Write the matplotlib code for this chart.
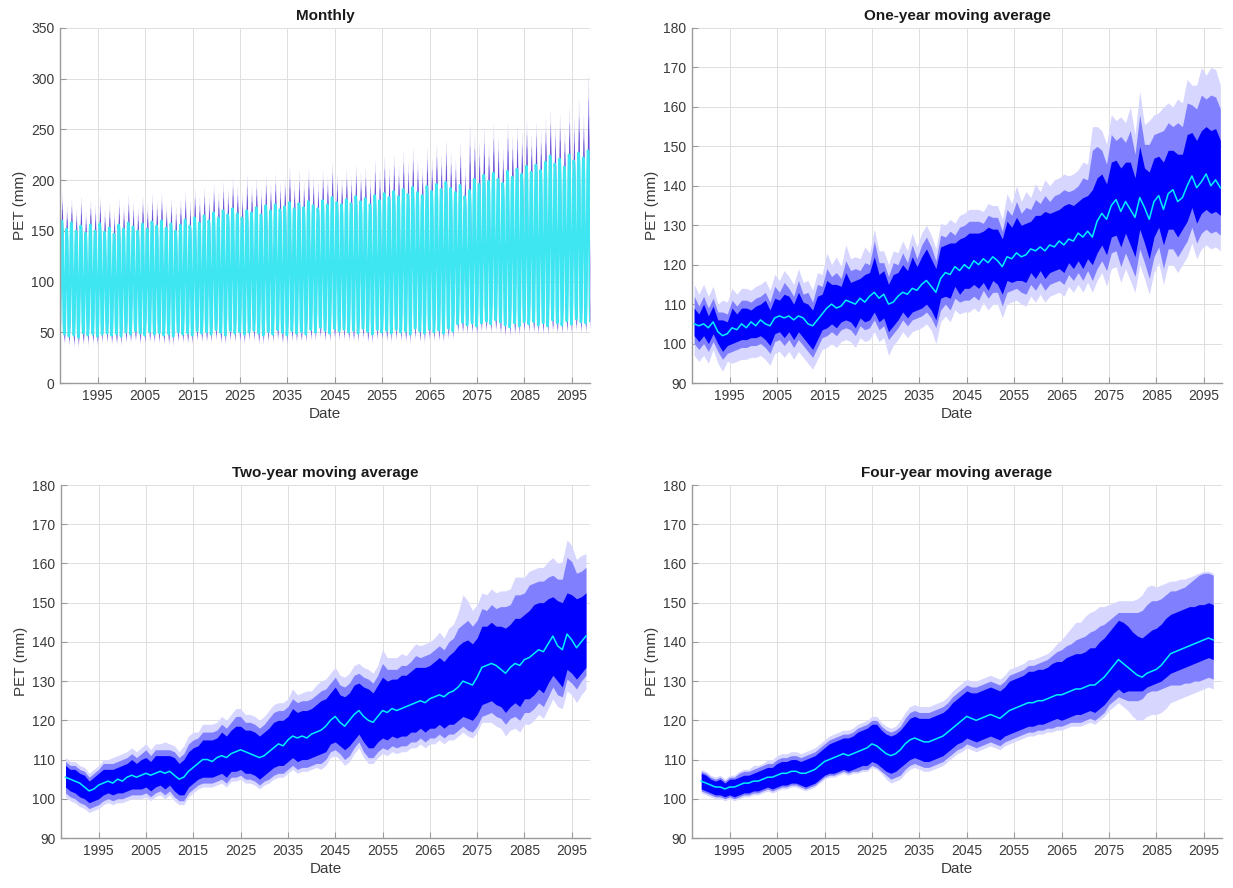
import numpy as np
import matplotlib
matplotlib.use("Agg")
import matplotlib.pyplot as plt

plt.rcParams['font.family'] = ['Liberation Sans', 'DejaVu Sans']

# ---------------- monthly panel (read per year, 1987-2098) ----------------
FIRST_YEAR = 1987
# seasonal position of each month between yearly trough (0) and peak (1)
SEASON_SHAPE = [0.02, 0.12, 0.35, 0.62, 0.88, 1.00, 0.98, 0.90, 0.66, 0.36, 0.10, 0.00]

peak_med = [160,152,158,150,155,148,156,150,157,149,
            153,147,156,152,158,154,150,157,152,159,
            155,160,153,157,150,156,161,155,163,158,
            165,160,168,163,170,166,172,167,163,170,
            168,173,166,175,170,176,171,174,178,172,
            177,173,179,175,172,180,176,183,178,176,
            181,177,184,179,182,176,185,180,187,183,
            189,184,191,186,193,188,185,194,189,196,
            191,198,192,188,195,184,190,201,196,205,
            199,207,201,197,209,203,211,206,214,208,
            215,210,218,224,216,221,213,225,219,227,
            222,229]
peak_hi = [188,176,182,173,185,170,181,176,184,172,
           178,170,183,176,186,179,174,185,177,187,
           181,188,176,183,175,182,189,180,192,184,
           193,185,197,189,199,192,203,195,188,206,
           195,202,192,205,197,207,198,203,214,199,
           210,200,213,204,198,211,205,218,207,203,
           212,205,216,208,213,203,220,210,224,214,
           226,215,229,218,232,221,214,233,222,236,
           226,240,228,222,237,214,255,246,238,252,
           236,256,243,232,258,245,255,248,260,246,
           258,249,262,270,255,266,250,272,262,280,
           265,305]
trough_med = [50,46,48,45,49,47,50,46,48,51,
              47,49,46,50,48,52,49,47,51,48,
              50,47,49,46,51,48,50,47,52,49,
              51,48,53,50,47,52,49,51,48,50,
              52,49,47,51,48,53,50,47,52,49,
              51,48,53,50,55,52,49,54,51,53,
              50,52,49,54,51,48,53,50,52,49,
              53,50,52,48,54,51,49,53,50,52,
              49,54,51,58,60,57,61,56,59,63,
              58,62,60,57,55,59,56,60,58,61,
              57,60,56,62,59,57,61,58,63,60,
              59,61]
trough_lo = [40,36,38,33,39,35,40,36,38,41,
             37,39,35,40,38,42,39,36,41,38,
             40,37,39,35,41,38,40,36,42,39,
             41,38,43,40,36,42,39,41,37,40,
             42,39,36,41,38,43,40,35,42,39,
             41,38,43,40,45,42,39,44,41,43,
             40,42,38,44,41,37,43,40,42,38,
             43,40,42,37,44,41,38,43,40,42,
             38,44,41,47,49,46,50,45,48,52,
             47,51,49,45,44,48,45,49,47,50,
             46,49,45,51,48,46,50,47,52,49,
             48,50]

# ---------------- one-year moving average (1987.5 ... 2098.5) ----------------
ma1_start = 1987.5
ma1_med = [105,104.5,105,104,105.5,103,102,102.5,104,103.5,
           105,104,105.5,104.5,106,105,104.5,106.5,107,106.5,
           107,106,107,106.5,105,104.5,106,107.5,109,110,
           109,109.5,111,110.5,110,111.5,110.5,112,113,111.5,
           112.5,110,110.5,112,113,112.5,114,113.5,115,116,
           114.5,113,116.5,118,117.5,119.5,118.5,120,119,121,
           120,121.5,120.5,122,121,119.5,122,121.5,123,122,
           122.5,124,123.5,124.5,123.5,125,124.5,126,125,126.5,
           126,128,127,128.5,127,131,133,131.5,135,136.5,
           133.5,136,134,132,137,134.5,131.5,136,137.5,134,
           138,139,136,137,140,142.5,139.5,141,143,140,
           141.5,139.5]
ma1_in_up = [4,3,5,3,4,3,4,3,5,4, 4,5,3,5,4,6,4,5,4,6, 5,4,6,4,5,4,6,5,7,5,
             6,5,7,5,6,5,7,6,9,6, 6,5,7,6,7,6,8,6,7,8, 7,6,8,7,8,6,8,7,9,7,
             8,7,9,7,8,7,9,8,9,8, 8,7,9,8,10,8,9,8,10,9, 9,8,10,9,12,11,10,9,11,10,
             11,10,12,10,13,10,12,11,10,12, 11,10,12,11,13,11,12,13,12,14, 13,12]
ma1_in_dn = [3,4,3,4,3,3,4,3,4,3, 4,3,4,3,4,4,5,4,4,5, 4,5,4,5,5,6,5,4,5,5,
             5,4,5,5,6,5,5,6,5,6, 6,7,6,6,5,6,6,5,6,6, 6,7,5,6,6,5,6,6,5,6,
             6,6,7,6,6,7,6,6,7,6, 7,6,7,6,7,7,6,7,7,6, 7,7,8,7,7,8,8,9,8,9,
             9,8,9,10,8,9,10,9,8,9, 9,10,9,8,9,8,9,8,9,7, 8,7]
ma1_mid_up = [7,5,7,5,6,5,6,5,7,6, 6,7,5,7,6,8,6,8,6,9, 7,6,9,6,8,6,9,7,10,7,
              9,7,10,8,9,7,10,8,13,9, 8,7,10,8,10,8,11,8,10,11, 10,8,11,9,11,8,11,10,12,10,
              11,9,12,10,11,9,12,11,13,11, 12,10,13,11,14,11,13,12,14,12, 13,12,15,13,22,19,16,14,18,15,
              19,15,20,16,21,16,19,17,16,20, 18,16,20,18,21,18,20,22,19,23, 21,20]
ma1_mid_dn = [5,6,5,6,5,5,6,5,6,5, 6,5,6,5,6,6,7,6,6,7, 6,7,6,7,7,8,7,6,7,7,
              7,6,7,7,8,7,7,8,7,8, 8,9,8,8,7,8,8,7,8,8, 8,9,8,8,9,8,8,9,8,9,
              9,8,9,9,8,10,9,8,9,9, 10,9,10,9,10,10,9,10,10,9, 10,10,11,10,11,12,12,13,12,13,
              14,13,14,15,13,14,15,14,13,15, 14,15,14,13,14,13,14,13,14,12, 13,12]
ma1_out_up = [10,8,10,8,9,7,9,8,10,9, 9,10,8,10,9,11,9,11,9,12, 10,9,12,9,11,9,12,10,14,10,
              13,10,14,11,12,10,14,11,16,12, 11,10,13,11,13,11,14,11,13,14, 13,11,14,12,14,11,14,13,15,13,
              14,12,15,13,14,12,16,14,17,14, 16,13,17,14,18,15,17,16,18,16, 17,16,19,17,28,24,21,19,23,20,
              24,20,26,21,27,21,25,22,21,26, 23,21,26,24,27,23,26,29,25,30, 28,26]
ma1_out_dn = [8,9,8,9,7,8,9,7,9,8, 9,8,9,8,9,9,10,9,9,10, 9,10,9,10,10,11,10,9,10,10,
              10,9,10,10,11,10,10,11,10,11, 11,13,11,11,10,11,11,10,11,11, 11,13,11,11,12,11,11,12,11,12,
              12,11,12,12,11,13,12,11,12,12, 13,12,13,12,13,13,12,13,13,12, 13,13,14,13,14,15,15,17,16,17,
              18,17,18,19,17,18,19,18,17,19, 18,19,18,17,18,17,18,17,18,16, 17,16]

# ---------------- two-year moving average (1988 ... 2098) ----------------
ma2_start = 1988
ma2_med = [105.5,105,104.5,104,103,102,102.5,103.5,104,104.5,
           104,105,104.5,105.5,106,105.5,106,106.5,106,106.5,
           107,106.5,107,106,105,105.5,107,108,109,110,
           110,109.5,110.5,111,110.5,111.5,112,112.5,112,111.5,
           111,110.5,111,112,113,114,113.5,115,116,115.5,
           116,115.5,116.5,117,117.5,118.5,120,121,119.5,118.5,
           120,121.5,122.5,121,120,119.5,121,122.5,122,123,
           122.5,123,123.5,124,124.5,125,124.5,125.5,126,126.5,
           126,127,127.5,128.5,130,129.5,129,131,133.5,134,
           134.5,134,133,132,133.5,134.5,134,135.5,136,137,
           138,137.5,139.5,141.5,139,138,142,140.5,138.5,140,
           141.5]
ma2_in_up = [3,2.5,3,2.5,3,2.5,3,3,3.5,3, 3.5,3,4,3.5,4,3.5,4,4,3.5,4.5,
             4,4.5,4,4.5,4,4.5,5,5,4.5,5, 5,5.5,5,6,5.5,6,6.5,6,5.5,6,
             6,5.5,6,6,6.5,6,6.5,6,7,6.5, 6.5,7,6.5,7,7.5,7,7,7.5,7,7.5,
             7,7.5,7,7.5,8,7.5,8,8.5,8,7.5, 8,8.5,8,8.5,9,8.5,9,8.5,9,9.5,
             9,9.5,10,10.5,10,11,10.5,10,10.5,10, 10.5,10,11,11.5,11,11.5,12,11.5,12,12.5,
             12,12.5,11.5,10,11.5,12,10.5,11.5,12.5,11.5, 11]
ma2_in_dn = [2.5,3,3,3.5,3,3,3,3.5,3,3, 3,3.5,3,3.5,3.5,3,3.5,3.5,4,3.5,
             3.5,4,3.5,4,4,4.5,4,4,4,4.5, 4.5,4,4.5,4.5,5,4.5,5,5,5.5,5,
             5,5.5,5,5,5,5.5,5,5.5,5.5,6, 6,5.5,6,6,6,6.5,6,6.5,6,6,
             6.5,6.5,6,6.5,7,6.5,6.5,7,7,7, 7,7,7.5,7,7.5,7,7.5,7.5,8,7.5,
             8,8,8.5,8.5,9,9,9,9.5,9.5,9.5, 9.5,10,9.5,10,10,10,10.5,10,10.5,10.5,
             10,10.5,10,10,9,9.5,9,8.5,8,8, 8]
ma2_mid_up = [4,3.5,4,3.5,4,3.5,4,4,5,4.5, 5,4.5,5.5,5,5.5,5,5.5,6,5,6,
              5.5,6,5.5,6,5.5,6,7,7,6.5,7, 7,7.5,7,8,7.5,8,9,8.5,7.5,8,
              8,7.5,8,8.5,9,8.5,9,8.5,9.5,9, 9,9.5,9,9.5,10,9.5,9.5,10,9.5,10,
              9.5,10,9.5,10,10.5,10,10.5,12,11,10, 10.5,11,10.5,11,12,11,12,11.5,12,12.5,
              12,13,13.5,15,14.5,16,15,14.5,15,14, 15,14.5,16,17,16,17.5,18,17,18.5,18,
              17.5,18,17,15.5,17,18,19.5,20,19,18, 17.5]
ma2_mid_dn = [4,4.5,4.5,5,4.5,4.5,4.5,5,4.5,4.5, 4.5,5,4.5,5,5,4.5,5,5,5.5,5,
              5,5.5,5,5.5,5.5,6,5.5,5.5,5.5,6, 6,5.5,6,6,6.5,6,6.5,6.5,7,6.5,
              6.5,7,6.5,7,7,7.5,7,7.5,7.5,8, 8,7.5,8,8,8.5,8.5,8,8.5,8,8.5,
              9,8.5,8,9,9.5,9,9,9.5,9.5,9.5, 9.5,9.5,10,9.5,10,9.5,10,10,10.5,10,
              10.5,10.5,11,11,11.5,12,12,12.5,12.5,12.5, 12.5,13,12.5,13,13,13.5,14,13.5,14,14,
              13.5,14,13.5,13,12.5,12,11.5,11,10.5,10, 10]
ma2_out_up = [5,4.5,5,4.5,5,4.5,5,5,6,5.5, 6.5,6,7,6.5,7,6.5,7,7.5,6.5,7.5,
              7,8,7,7.5,7,8,9,9,8,9, 9,9.5,9,10,9.5,10,11,10.5,9.5,10,
              10,9.5,10,10.5,11,10.5,11,10.5,12,11, 11,12,11,12,12.5,12,12,12.5,12,12.5,
              12,12.5,12,12.5,13,12.5,13,15.5,14,13, 13.5,14,13,14,15,14,15,14.5,15,16,
              15,16.5,17,19,22,21,19,18.5,19,18, 19,18.5,20,21,20,22,22.5,21,22,21.5,
              21,21.5,21,20,21,22.5,24,24,22.5,22, 21]
ma2_out_dn = [5,5.5,5.5,6,5.5,5.5,5.5,6,5.5,5.5, 5.5,6,5.5,6,6,5.5,6,6,6.5,6,
              6,6.5,6,6.5,6.5,7,6.5,6.5,6.5,7, 7,6.5,7,7,7.5,7,7.5,7.5,8,7.5,
              7.5,8,7.5,8,8,8.5,8,8.5,8.5,9, 9,8.5,9,9,10,10,9.5,10,9.5,10,
              10.5,10,9.5,10.5,11,10.5,10.5,11,11,11, 11,11,11.5,11,11.5,11,11.5,11.5,12,11.5,
              12,12,12.5,12.5,13,13.5,13.5,14,14,14.5, 15,15.5,15,16,16,16.5,17,16.5,17,17,
              16.5,17,16.5,16,15.5,15,14.5,14,14,13.5, 13.5]

# ---------------- four-year moving average (1989 ... 2097) ----------------
ma4_start = 1989
ma4_med = [104.5,104,103.5,103,103,102.5,103,103,103.5,104,
           104,104.5,104.5,105,105.5,105.5,106,106.5,106.5,107,
           107,106.5,106.5,107,107.5,108.5,109.5,110,110.5,111,
           111.5,111,111.5,112,112.5,113,114,113.5,112.5,111.5,
           111,111.5,112.5,114,115,115.5,115,114.5,114.5,115,
           115.5,116,117,118,119,120,121,120.5,120,120.5,
           121,121.5,121,120.5,121.5,122.5,123,123.5,124,124.5,
           124.5,125,125,125.5,126,126.5,126.5,127,127.5,128,
           128,128.5,129,129,130,131,132.5,134,135.5,134.5,
           133.5,132.5,131.5,131,132,132.5,133,134,135.5,137,
           137.5,138,138.5,139,139.5,140,140.5,141,140.5]
ma4_in_up = [2,2,1.5,1.5,2,1.5,2,2,2,2, 2,2,2.5,2.5,2.5,2.5,3,3,3,3,
             3,3,3.5,3.5,3.5,3.5,3.5,4,4,4, 4,4.5,4.5,5,5,5,5,5.5,5,5,
             5,5,5,5,5.5,5.5,5.5,6,6,6, 6,6,6,6.5,6.5,6.5,6.5,6.5,7,7,
             7,7,7,7,7,7.5,7.5,7.5,7.5,8, 8,8,8,8,8.5,8.5,8.5,9,9,9,
             9,9,9.5,9.5,10,10,10,10,10,10.5, 10.5,10,10,10,10,10.5,10.5,10.5,10.5,10,
             10,10,10,10,9.5,9.5,9,9,9]
ma4_in_dn = [2,2,2,2,2,2,2,2.5,2.5,2.5, 2.5,2.5,2.5,2.5,2.5,3,3,3,3,3,
             3,3,3.5,3.5,3.5,3.5,3.5,3.5,4,4, 4,4,4,4,4,4.5,4.5,4.5,4.5,4.5,
             4.5,4.5,4.5,5,5,5,5,5,5,5, 5,5,5,5,5,5.5,5.5,5.5,5.5,5.5,
             5.5,5.5,5.5,5.5,5.5,6,6,6,6,6, 6,6,6,6,6,6,6.5,6.5,6.5,6.5,
             6.5,6.5,6.5,7,7,7,7,7,7.5,7.5, 6,5,4,3.5,3.5,3.5,3.5,4,4.5,5,
             5,5,5,5,5,5,5,5,5]
ma4_mid_up = [2.5,2.5,2,2,2.5,2,2.5,2.5,3,3, 3,3,3.5,3.5,3.5,3.5,4,4,4,4,
              4,4,4.5,4.5,4.5,4.5,4.5,5,5,5, 5,5.5,5.5,6,6,6,6,6.5,6,6,
              6,6,6,6.5,7,7,7,7.5,7.5,7.5, 7.5,7.5,7.5,8,8,8,8,8,8.5,8.5,
              8.5,8.5,8.5,8.5,8.5,9,9,9,9,9.5, 9.5,9.5,10,10,10.5,11,11.5,12,12,12.5,
              13,13,13.5,14,14,13.5,13,12.5,12,13, 14,15,16,17,17.5,18,17.5,17,16.5,16,
              15.5,15.5,15.5,16,16.5,17,17,16.5,16.5]
ma4_mid_dn = [2.5,2.5,2.5,2.5,2.5,2.5,2.5,3,3,3, 3,3,3,3,3,3.5,3.5,3.5,3.5,3.5,
              3.5,3.5,4,4,4,4,4,4,4.5,4.5, 4.5,4.5,4.5,5,5,5.5,5.5,5.5,5.5,5.5,
              6,6,6.5,6.5,6.5,6.5,6.5,6.5,6.5,6.5, 6.5,6.5,6.5,6.5,6.5,7,7,7,7,7,
              7,7,7,7,7,7.5,7.5,7.5,7.5,7.5, 7.5,7.5,7.5,7.5,8,8,8,8,8,8.5,
              8.5,8.5,8.5,9,9,9,8.5,9,9.5,9, 8.5,7.5,6.5,5.5,5,5,5.5,6,7,8,
              8.5,9,9,9.5,9.5,10,10,10,10]
ma4_out_up = [3,3,2.5,2.5,3,2.5,3,3,3.5,3.5, 3.5,4,4,4,4.5,4.5,5,5,5,5,
              5,5,5.5,5.5,5.5,5.5,5.5,6,6,6, 6,6.5,6.5,7,7,7,7,7.5,7,7,
              7,7,7.5,8,8.5,8.5,8.5,9,9,9, 9,9,9,9.5,9.5,9.5,9.5,9.5,10,10,
              10,10,10,10,10,10.5,10.5,10.5,10.5,11, 11,11,11.5,11.5,12,13,14,15,16,17,
              17,18,18.5,19,19,18,17,16,15,16, 17,18,19.5,21,22,22,21,20.5,19.5,18.5,
              18,18,17.5,17.5,17.5,17.5,17.5,17,17]
ma4_out_dn = [3,3,3,3,3,3,3,3.5,3.5,3.5, 3.5,3.5,3.5,3.5,3.5,4,4,4,4,4,
              4,4,4.5,4.5,4.5,4.5,4.5,4.5,5,5, 5,5,5,5.5,5.5,6,6,6,6,6.5,
              7,7,7.5,7.5,7.5,7.5,7.5,7.5,7.5,7.5, 7.5,7.5,7.5,7.5,7.5,8,8,8,8,8,
              8,8,8,8,8,8.5,8.5,8.5,8.5,8.5, 8.5,8.5,8.5,8.5,9,9,9,9,9,9.5,
              9.5,9.5,9.5,10,10,10,10,10.5,11,11, 11,11.5,11.5,11,11,11,11.5,12,12.5,12.5,
              12.5,12.5,12.5,12.5,12.5,12.5,12.5,12.5,12.5]

XTICKS = list(range(1995, 2096, 10))
XLIM = (1987.05, 2098.85)

C_MED = '#00f0ff'
C_IN, C_MID, C_OUT = '#0000ff', '#8080ff', '#d6d6ff'
C_MED_M = '#3ee6f2'
C_IN_M, C_MID_M, C_OUT_M = '#6448d6', '#9a88e6', '#e0daf7'


def style(ax, title, ylim, yticks):
    ax.set_xlim(*XLIM)
    ax.set_ylim(*ylim)
    ax.set_xticks(XTICKS)
    ax.set_xticklabels([str(y) for y in XTICKS])
    ax.set_yticks(yticks)
    ax.grid(True, color='#dedede', linewidth=0.7)
    ax.set_axisbelow(True)
    for s in ['top', 'right']:
        ax.spines[s].set_visible(False)
    for s in ['left', 'bottom']:
        ax.spines[s].set_color('#9a9a9a')
        ax.spines[s].set_linewidth(1.0)
    ax.tick_params(direction='in', length=4, width=0.8, color='#9a9a9a',
                   labelsize=10, labelcolor='#3a3a3a', pad=4)
    ax.set_title(title, fontsize=11, fontweight='bold', color='#1a1a1a', pad=6)
    ax.set_xlabel('Date', fontsize=11, color='#3a3a3a', labelpad=3)
    ax.set_ylabel('PET (mm)', fontsize=11, color='#3a3a3a', labelpad=3)


def moving_panel(ax, start, med, in_up, in_dn, mid_up, mid_dn, out_up, out_dn, title):
    n = min(len(med), len(in_up), len(in_dn), len(mid_up), len(mid_dn), len(out_up), len(out_dn))
    x = start + np.arange(n)
    m = np.array(med[:n], float)
    ax.fill_between(x, m - np.array(out_dn[:n]), m + np.array(out_up[:n]), color=C_OUT, lw=0)
    ax.fill_between(x, m - np.array(mid_dn[:n]), m + np.array(mid_up[:n]), color=C_MID, lw=0)
    ax.fill_between(x, m - np.array(in_dn[:n]), m + np.array(in_up[:n]), color=C_IN, lw=0)
    ax.plot(x, m, color=C_MED, lw=1.1)
    style(ax, title, (90, 180), range(90, 181, 10))


fig = plt.figure(figsize=(12.33, 8.88), dpi=100)
ax1 = fig.add_axes([60 / 1233, 1 - 383 / 888, 530 / 1233, 355 / 888])
ax2 = fig.add_axes([692 / 1233, 1 - 383 / 888, 530 / 1233, 355 / 888])
ax3 = fig.add_axes([61 / 1233, 1 - 838 / 888, 529 / 1233, 353 / 888])
ax4 = fig.add_axes([692 / 1233, 1 - 838 / 888, 530 / 1233, 353 / 888])

# monthly series built from yearly peaks / troughs and the seasonal shape
ny = min(len(peak_med), len(peak_hi), len(trough_med), len(trough_lo))
shape = np.tile(np.array(SEASON_SHAPE), ny)
P = np.repeat(np.array(peak_med[:ny], float), 12)
PH = np.repeat(np.array(peak_hi[:ny], float), 12)
T = np.repeat(np.array(trough_med[:ny], float), 12)
TL = np.repeat(np.array(trough_lo[:ny], float), 12)
t = FIRST_YEAR + np.arange(ny * 12) / 12.0
med_m = T + shape * (P - T)
up_m = shape * (PH - P) + (1 - shape) * 4
dn_m = (1 - shape) * (T - TL) + shape * 10
ax1.fill_between(t, med_m - dn_m, med_m + up_m, color=C_OUT_M, lw=0)
ax1.fill_between(t, med_m - 0.75 * dn_m, med_m + 0.7 * up_m, color=C_MID_M, lw=0)
ax1.fill_between(t, med_m - 0.5 * dn_m, med_m + 0.45 * up_m, color=C_IN_M, lw=0)
ax1.plot(t, med_m, color=C_MED_M, lw=1.8)
style(ax1, 'Monthly', (0, 350), range(0, 351, 50))

moving_panel(ax2, ma1_start, ma1_med, ma1_in_up, ma1_in_dn, ma1_mid_up, ma1_mid_dn,
             ma1_out_up, ma1_out_dn, 'One-year moving average')
moving_panel(ax3, ma2_start, ma2_med, ma2_in_up, ma2_in_dn, ma2_mid_up, ma2_mid_dn,
             ma2_out_up, ma2_out_dn, 'Two-year moving average')
moving_panel(ax4, ma4_start, ma4_med, ma4_in_up, ma4_in_dn, ma4_mid_up, ma4_mid_dn,
             ma4_out_up, ma4_out_dn, 'Four-year moving average')

fig.savefig('out.png', dpi=100)
